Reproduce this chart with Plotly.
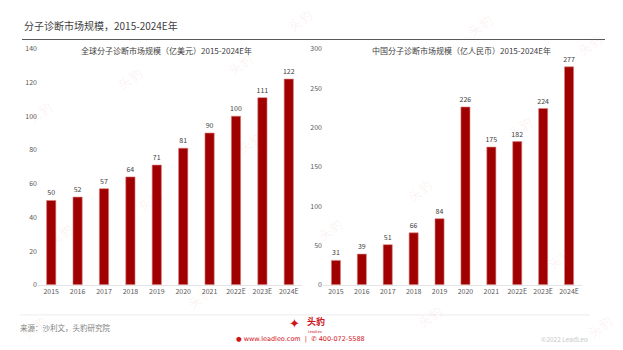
import plotly.graph_objects as go

# Market size data
years = ["2015", "2016", "2017", "2018", "2019", "2020", "2021", "2022E", "2023E", "2024E"]
global_usd_100m = [50, 52, 57, 64, 71, 81, 90, 100, 111, 122]
china_rmb_100m = [31, 39, 51, 66, 84, 226, 175, 182, 224, 277]

global_ticks = [0, 20, 40, 60, 80, 100, 120, 140]
china_ticks = [0, 50, 100, 150, 200, 250, 300]

W, H = 623, 350
BAR = "#a00000"
FONT = "Noto Sans CJK SC, Noto Sans, sans-serif"


def px(x):
    return x / W


def py(y):
    return 1 - y / H


fig = go.Figure()

for vals, xa, ya in [(global_usd_100m, "x", "y"), (china_rmb_100m, "x2", "y2")]:
    fig.add_trace(go.Bar(
        x=years, y=vals, xaxis=xa, yaxis=ya,
        marker=dict(color=BAR, line=dict(color="#d98080", width=0.6)),
        text=[str(v) for v in vals], textposition="outside",
        constraintext="none",
        textfont=dict(size=7, color="#404040", family=FONT),
        cliponaxis=False, hoverinfo="skip",
    ))

tickfont = dict(size=7, color="#595959", family=FONT)
y_top = py(44)
y_bot = py(287)

common_x = dict(type="category", showgrid=False, zeroline=False, showline=True,
                linecolor="#e3e3e3", linewidth=1, ticks="", tickfont=tickfont,
                fixedrange=True)
common_y = dict(showgrid=False, zeroline=False, showline=False, ticks="",
                tickfont=tickfont, fixedrange=True)

fig.update_layout(
    width=W, height=H,
    margin=dict(l=0, r=0, t=0, b=0),
    paper_bgcolor="white", plot_bgcolor="white",
    showlegend=False, bargap=0.65,
    font=dict(family=FONT),
    xaxis=dict(domain=[px(38), px(302)], anchor="y", **common_x),
    yaxis=dict(domain=[y_bot, y_top], anchor="x", range=[0, 140],
               tickvals=global_ticks, **common_y),
    xaxis2=dict(domain=[px(323), px(582)], anchor="y2", **common_x),
    yaxis2=dict(domain=[y_bot, y_top], anchor="x2", range=[0, 300],
                tickvals=china_ticks, **common_y),
)

# Faint brand watermarks
wm_pos = [(40, 110), (130, 75), (60, 235), (150, 200), (250, 140), (200, 300),
          (330, 230), (420, 190), (520, 125), (560, 260), (430, 320), (600, 330),
          (300, 15), (480, 20), (590, 40), (240, 60), (35, 330)]
for wx, wy in wm_pos:
    fig.add_annotation(x=px(wx), y=py(wy), xref="paper", yref="paper",
                       xanchor="center", yanchor="middle",
                       text="头豹", showarrow=False, textangle=-35,
                       font=dict(size=13, color="rgba(200,40,40,0.08)", family=FONT))

# Page title and rules
fig.add_annotation(x=px(22), y=py(20), xref="paper", yref="paper",
                   xanchor="left", yanchor="middle",
                   text="分子诊断市场规模，2015-2024E年", showarrow=False,
                   font=dict(size=10, color="#404040", family=FONT))
fig.add_shape(type="line", xref="paper", yref="paper",
              x0=px(22), x1=px(605), y0=py(34.5), y1=py(34.5),
              line=dict(color="#595959", width=1))
fig.add_shape(type="line", xref="paper", yref="paper",
              x0=px(20), x1=px(590), y0=py(318), y1=py(318),
              line=dict(color="#ececec", width=1))

# Chart titles
fig.add_annotation(x=px(166), y=py(45.5), xref="paper", yref="paper",
                   xanchor="center", yanchor="middle",
                   text="全球分子诊断市场规模（亿美元）2015-2024E年", showarrow=False,
                   font=dict(size=8, color="#404040", family=FONT))
fig.add_annotation(x=px(461), y=py(45.5), xref="paper", yref="paper",
                   xanchor="center", yanchor="middle",
                   text="中国分子诊断市场规模（亿人民币）2015-2024E年", showarrow=False,
                   font=dict(size=8, color="#404040", family=FONT))

# Footer
fig.add_annotation(x=px(18), y=py(331), xref="paper", yref="paper",
                   xanchor="left", yanchor="middle",
                   text="来源：沙利文，头豹研究院", showarrow=False,
                   font=dict(size=7.5, color="#7f7f7f", family=FONT))
fig.add_annotation(x=px(305), y=py(325), xref="paper", yref="paper",
                   xanchor="left", yanchor="middle",
                   text="<b>头豹</b>", showarrow=False,
                   font=dict(size=9, color="#d0121b", family=FONT))
fig.add_annotation(x=px(306), y=py(335.5), xref="paper", yref="paper",
                   xanchor="left", yanchor="middle",
                   text="LeadLeo", showarrow=False,
                   font=dict(size=3.5, color="#d0121b", family=FONT))
fig.add_annotation(x=px(294), y=py(327), xref="paper", yref="paper",
                   xanchor="center", yanchor="middle",
                   text="<b>✦</b>", showarrow=False,
                   font=dict(size=13, color="#d0121b", family="DejaVu Sans"))
fig.add_annotation(x=px(300), y=py(343), xref="paper", yref="paper",
                   xanchor="center", yanchor="middle",
                   text="● www.leadleo.com  |  ✆ 400-072-5588", showarrow=False,
                   font=dict(size=6.5, color="#d0121b", family="DejaVu Sans"))
fig.add_annotation(x=px(590), y=py(343), xref="paper", yref="paper",
                   xanchor="right", yanchor="middle",
                   text="©2022 LeadLeo", showarrow=False,
                   font=dict(size=6.5, color="#c8c8c8", family=FONT))

fig.write_html("out.html")
